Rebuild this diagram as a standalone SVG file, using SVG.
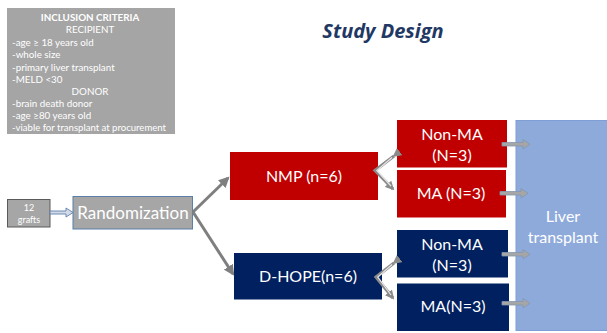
<svg xmlns="http://www.w3.org/2000/svg" width="607" height="333" viewBox="0 0 607 333">
  <style>
    .t { font-family: Lato, "Liberation Sans", sans-serif; fill: #ffffff; }
    .crit { font-size: 9.8px; }
    .node { font-size: 16px; text-anchor: middle; }
    .red { fill: #c00000; }
    .blue { fill: #002060; }
    .gray { fill: #a6a6a6; }
    .branch { stroke: #7f7f7f; stroke-width: 3; fill: none; }
    .fork { stroke: #8a8a8a; stroke-width: 3.2; fill: none; }
    .fork-in { stroke: #e6e6e6; stroke-width: 1.2; fill: none; }
    .blk { fill: #a6a6a6; stroke: #8497b0; stroke-width: 0.8; }
  </style>
  <defs>
    <marker id="head" viewBox="0 0 10 10" refX="8" refY="5" markerWidth="3.6" markerHeight="3.6" orient="auto">
      <path d="M0,0 L10,5 L0,10 Z" fill="#7f7f7f"/>
    </marker>
    <marker id="fhead" viewBox="0 0 10 10" refX="8" refY="5" markerWidth="2.8" markerHeight="2.8" orient="auto">
      <path d="M0,0 L10,5 L0,10 Z" fill="#8a8a8a"/>
    </marker>
  </defs>

  <rect width="607" height="333" fill="#ffffff"/>

  <!-- inclusion criteria panel -->
  <g id="criteria">
    <rect x="7" y="8" width="168" height="126" fill="#a5a5a5"/>
    <text class="t crit" x="90" y="21" text-anchor="middle" font-weight="bold" font-size="10.6">INCLUSION CRITERIA</text>
    <text class="t crit" x="90" y="33" text-anchor="middle">RECIPIENT</text>
    <text class="t crit" x="12" y="46">-age ≥ 18 years old</text>
    <text class="t crit" x="12" y="58">-whole size</text>
    <text class="t crit" x="12" y="71">-primary liver transplant</text>
    <text class="t crit" x="12" y="83">-MELD &lt;30</text>
    <text class="t crit" x="90" y="95" text-anchor="middle">DONOR</text>
    <text class="t crit" x="12" y="107">-brain death donor</text>
    <text class="t crit" x="12" y="119">-age ≥80 years old</text>
    <text class="t crit" x="12" y="131" textLength="154" lengthAdjust="spacingAndGlyphs">-viable for transplant at procurement</text>
  </g>

  <!-- title -->
  <g id="title">
    <text x="383" y="38" text-anchor="middle" font-family="'Open Sans', 'Liberation Sans', sans-serif" font-size="20" font-weight="bold" font-style="italic" fill="#1f3864">Study Design</text>
  </g>

  <g id="grafts">
    <rect x="7.5" y="199.5" width="42.5" height="27.5" class="gray" stroke="#5a5a5a" stroke-width="1"/>
    <text class="t" x="29" y="211" text-anchor="middle" font-size="9">12</text>
    <text class="t" x="29" y="223" text-anchor="middle" font-size="9">grafts</text>
  </g>

  <g id="randomization">
    <rect x="73" y="196.5" width="119.5" height="32.5" class="gray" stroke="#5a7fa8" stroke-width="1"/>
    <text class="t" x="133" y="219" text-anchor="middle" font-size="17">Randomization</text>
  </g>

  <g id="nmp">
    <rect x="230" y="152" width="148" height="48" class="red"/>
    <text class="t node" x="304" y="182">NMP (n=6)</text>
  </g>

  <g id="dhope">
    <rect x="234" y="253" width="148" height="46.5" class="blue"/>
    <text class="t node" x="308" y="282">D-HOPE(n=6)</text>
  </g>

  <g id="nmp-nonma">
    <rect x="397" y="120" width="110" height="47.5" class="red"/>
    <text class="t node" x="452" y="140">Non-MA</text>
    <text class="t node" x="452" y="161">(N=3)</text>
  </g>

  <g id="nmp-ma">
    <rect x="397" y="170" width="109" height="47.5" class="red"/>
    <text class="t node" x="451" y="199">MA (N=3)</text>
  </g>

  <g id="dhope-nonma">
    <rect x="397" y="230" width="111" height="47.5" class="blue"/>
    <text class="t node" x="452" y="250">Non-MA</text>
    <text class="t node" x="452" y="271">(N=3)</text>
  </g>

  <g id="dhope-ma">
    <rect x="397" y="283.5" width="112" height="47.5" class="blue"/>
    <text class="t node" x="453" y="312">MA(N=3)</text>
  </g>

  <g id="liver">
    <rect x="516" y="120.5" width="92" height="210" fill="#8eaadb" stroke="#7f9ed6" stroke-width="1"/>
    <text class="t node" x="563" y="222">Liver</text>
    <text class="t node" x="563" y="243">transplant</text>
  </g>

  <!-- connectors, drawn over the boxes they touch -->
  <g id="connectors">
    <!-- grafts to randomization -->
    <path d="M50,211 H66 V208 L73,212.5 L66,217 V214 H50 Z" fill="#d4dbe6" stroke="#5b7fb0" stroke-width="0.9"/>
    <!-- randomization to arms -->
    <line class="branch" x1="193" y1="212" x2="228" y2="178" marker-end="url(#head)"/>
    <line class="branch" x1="193" y1="212" x2="233" y2="274" marker-end="url(#head)"/>
    <!-- NMP fork -->
    <polyline class="fork" points="394,156 375,170.5 393,189" marker-start="url(#fhead)" marker-end="url(#fhead)"/>
    <polyline class="fork-in" points="392,157.5 376.8,170.5 391,186"/>
    <!-- D-HOPE fork -->
    <polyline class="fork" points="394,263 376,277 393,298" marker-start="url(#fhead)" marker-end="url(#fhead)"/>
    <polyline class="fork-in" points="392,264.5 377.8,277 391,295"/>
    <!-- subgroup to liver transplant -->
    <path class="blk" d="M502,142.5 H523 V139.5 L530,144.3 L523,149 V146 H502 Z"/>
    <path class="blk" d="M500,191.5 H521 V188.5 L528,193.3 L521,198 V195 H500 Z"/>
    <path class="blk" d="M502,252.5 H523 V249.5 L530,254.3 L523,259 V256 H502 Z"/>
    <path class="blk" d="M502,301.5 H523 V298.5 L530,303.3 L523,308 V305 H502 Z"/>
  </g>
</svg>
